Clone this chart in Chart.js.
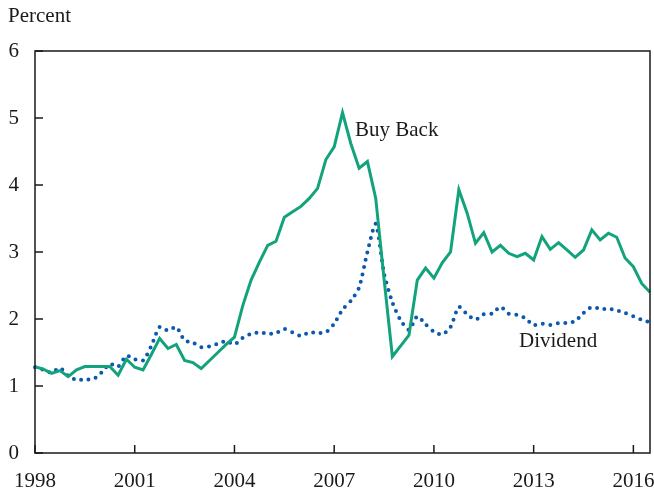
<!DOCTYPE html>
<html>
<head>
<meta charset="utf-8">
<script src="https://cdn.jsdelivr.net/npm/chart.js@4"></script>
<style>
  body { margin: 0; background: #fff; }
  #wrap { width: 654px; height: 496px; }
</style>
</head>
<body>
<div id="wrap"><canvas id="chart" width="654" height="496"></canvas></div>
<script>
// quarterly, 1998 Q1 through 2016 Q3
const quarters = [];
for (let y = 1998; y <= 2016; y++) {
  for (let q = 1; q <= 4; q++) {
    if (y === 2016 && q > 3) break;
    quarters.push(y + " Q" + q);
  }
}

const buyBack = [
  1.29, 1.25, 1.19, 1.23, 1.14, 1.24, 1.29, 1.29, 1.29, 1.29, 1.16, 1.40,
  1.28, 1.24, 1.47, 1.71, 1.56, 1.62, 1.38, 1.35, 1.26, 1.38, 1.50, 1.62,
  1.73, 2.20, 2.58, 2.85, 3.10, 3.16, 3.52, 3.60, 3.68, 3.80, 3.95, 4.38,
  4.57, 5.08, 4.62, 4.25, 4.35, 3.80, 2.60, 1.44, 1.60, 1.76, 2.58, 2.76,
  2.61, 2.84, 3.00, 3.93, 3.58, 3.13, 3.29, 3.00, 3.10, 2.98, 2.93, 2.98,
  2.88, 3.23, 3.04, 3.14, 3.03, 2.92, 3.03, 3.33, 3.18, 3.28, 3.22, 2.91,
  2.78, 2.53, 2.40
];

const dividend = [
  1.28, 1.24, 1.20, 1.27, 1.15, 1.09, 1.10, 1.10, 1.20, 1.33, 1.29, 1.45,
  1.40, 1.38, 1.60, 1.88, 1.83, 1.88, 1.68, 1.65, 1.58, 1.59, 1.63, 1.67,
  1.62, 1.72, 1.78, 1.80, 1.78, 1.79, 1.85, 1.80, 1.75, 1.80, 1.79, 1.80,
  1.93, 2.14, 2.27, 2.47, 3.00, 3.42, 2.68, 2.25, 1.98, 1.84, 2.04, 1.92,
  1.81, 1.77, 1.88, 2.18, 2.07, 1.99, 2.07, 2.08, 2.18, 2.08, 2.06, 2.01,
  1.91, 1.93, 1.91, 1.94, 1.94, 1.97, 2.09, 2.18, 2.15, 2.15, 2.13, 2.09,
  2.04, 1.99, 1.95
];

const xTickYears = ["1998", "2001", "2004", "2007", "2010", "2013", "2016"];
const yTicks = [0, 1, 2, 3, 4, 5, 6];

const FONT = "'Palatino Linotype', 'Book Antiqua', Palatino, 'Liberation Serif', serif";
const GREEN = "#13a37c";
const BLUE = "#0b58ad";
const INK = "#1a1a1a";

// frame, inward tick marks and text labels
const decor = {
  id: "decor",
  afterDraw(chart) {
    const { ctx, chartArea: a, scales: { x, y } } = chart;
    ctx.save();
    ctx.strokeStyle = INK;
    ctx.lineWidth = 1.5;
    ctx.strokeRect(a.left, a.top, a.right - a.left, a.bottom - a.top);
    ctx.beginPath();
    x.ticks.forEach(t => {
      const px = x.getPixelForValue(t.value);
      ctx.moveTo(px, a.bottom);
      ctx.lineTo(px, a.bottom - 8);
    });
    yTicks.forEach(v => {
      const py = y.getPixelForValue(v);
      ctx.moveTo(a.left, py);
      ctx.lineTo(a.left + 8, py);
    });
    ctx.stroke();

    ctx.fillStyle = INK;
    ctx.font = "21px " + FONT;
    ctx.textBaseline = "middle";
    ctx.textAlign = "left";
    ctx.fillText("Percent", 8, 16);
    ctx.fillText("Buy Back", 355, 130);
    ctx.fillText("Dividend", 519, 341);
    ctx.restore();
  }
};

new Chart(document.getElementById("chart"), {
  type: "line",
  data: {
    labels: quarters,
    datasets: [
      {
        label: "Buy Back",
        data: buyBack,
        borderColor: GREEN,
        borderWidth: 3,
        pointRadius: 0,
        tension: 0,
        borderJoinStyle: "miter"
      },
      {
        label: "Dividend",
        data: dividend,
        borderColor: BLUE,
        borderWidth: 4,
        borderDash: [0, 7.5],
        borderCapStyle: "round",
        pointRadius: 0,
        tension: 0.25
      }
    ]
  },
  options: {
    responsive: false,
    animation: false,
    layout: { padding: { top: 51, right: 4, left: 0, bottom: 0 } },
    plugins: { legend: { display: false }, tooltip: { enabled: false } },
    scales: {
      x: {
        type: "category",
        offset: false,
        grid: { display: false, drawTicks: false },
        border: { display: false },
        afterBuildTicks(scale) {
          scale.ticks = quarters
            .map((q, i) => ({ q, i }))
            .filter(o => o.q.endsWith("Q1") && xTickYears.includes(o.q.slice(0, 4)))
            .map(o => ({ value: o.i }));
        },
        afterFit(scale) {
          scale.height = 43;
          scale.paddingLeft = 0;
          scale.paddingRight = 0;
        },
        ticks: {
          autoSkip: false,
          maxRotation: 0,
          padding: 16,
          color: INK,
          font: { family: FONT, size: 21 },
          callback(value) { return this.getLabelForValue(value).slice(0, 4); }
        }
      },
      y: {
        min: 0,
        max: 6,
        grid: { display: false, drawTicks: false },
        border: { display: false },
        afterFit(scale) {
          scale.width = 35;
          scale.paddingTop = 0;
          scale.paddingBottom = 0;
        },
        ticks: {
          stepSize: 1,
          padding: 16,
          color: INK,
          font: { family: FONT, size: 21 }
        }
      }
    }
  },
  plugins: [decor]
});
</script>
</body>
</html>
